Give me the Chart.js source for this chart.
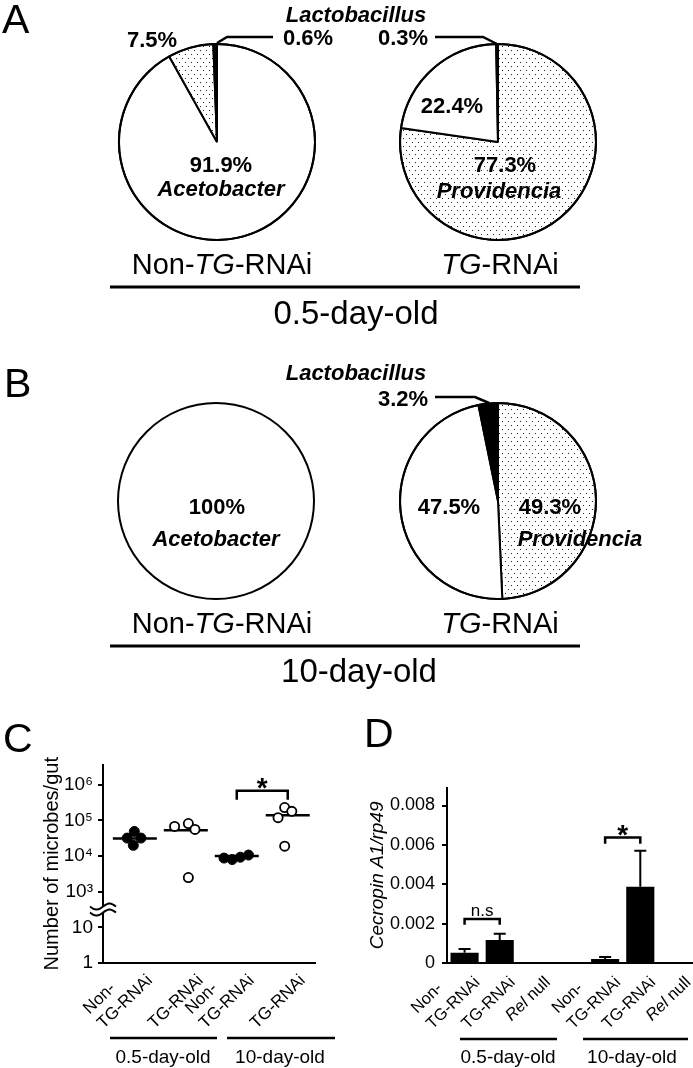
<!DOCTYPE html>
<html>
<head>
<meta charset="utf-8">
<title>Gut microbiota and Cecropin A1</title>
<script src="https://cdn.jsdelivr.net/npm/chart.js@4.4.0/dist/chart.umd.min.js"></script>
<style>
  html, body { margin: 0; padding: 0; background: #fff; overflow: hidden; }
  #page { position: relative; width: 693px; height: 1068px; overflow: hidden; }
  #page canvas { position: absolute; }
  #overlay { position: absolute; left: 0; top: 0; pointer-events: none; }
</style>
</head>
<body>
<div id="page">
  <canvas id="pieA1" width="210" height="210" style="left:112px;top:37px"></canvas>
  <canvas id="pieA2" width="210" height="210" style="left:393px;top:37px"></canvas>
  <canvas id="pieB1" width="210" height="210" style="left:111px;top:396px"></canvas>
  <canvas id="pieB2" width="210" height="210" style="left:393px;top:396px"></canvas>
  <canvas id="chartC" width="340" height="328" style="left:0px;top:740px"></canvas>
  <canvas id="chartD" width="348" height="298" style="left:345px;top:770px"></canvas>
  <svg id="overlay" width="693" height="1068" font-family="'Liberation Sans', Arial, Helvetica, sans-serif"></svg>
</div>
<script>
// ===== Data =====

// Panels A/B: share of each genus (%), listed clockwise from 12 o'clock
const pieA1Taxa = ['Acetobacter', 'Providencia', 'Lactobacillus'];
const pieA1Values = [91.9, 7.5, 0.6];
const pieA2Taxa = ['Providencia', 'Acetobacter', 'Lactobacillus'];
const pieA2Values = [77.3, 22.4, 0.3];
const pieB1Taxa = ['Acetobacter'];
const pieB1Values = [100];
const pieB2Taxa = ['Providencia', 'Acetobacter', 'Lactobacillus'];
const pieB2Values = [49.3, 47.5, 3.2];
const ageLabels = ['0.5-day-old', '10-day-old'];

// Panel C: microbes per gut (broken log axis)
const cGroupLabels = [['Non-', 'TG-RNAi'], ['TG-RNAi'], ['Non-', 'TG-RNAi'], ['TG-RNAi']];
const cGroupFilled = [true, false, true, false];
const cCounts = [
    [3.2e4, 4.9e4, 3.2e4, 2.0e4],
    [6.8e4, 8.2e4, 5.6e4, 2.5e3],
    [8.8e3, 8.0e3, 9.3e3, 1.07e4],
    [1.2e5, 2.3e5, 1.8e5, 1.9e4]
];
const cSpread = [
    [-0.15, -0.01, 0.12, -0.03],
    [-0.22, 0.05, 0.18, 0.05],
    [-0.25, -0.09, 0.07, 0.23],
    [-0.19, -0.06, 0.08, -0.06]
];
const cMeans = [3.1e4, 5.3e4, 1.0e4, 1.4e5];
const cTickValues = [1, 10, 1e3, 1e4, 1e5, 1e6];
const cTickLabels = ['1', '10', '10³', '10⁴', '10⁵', '10⁶'];
const cBracket = { from: 2, to: 3, top: 6.8e5, arm: 3.8e5, label: '*' };

// Panel D: Cecropin A1 / rp49 (mean and upper error)
const dLabels = [['Non-', 'TG-RNAi'], ['TG-RNAi'], ['Rel null'], [], ['Non-', 'TG-RNAi'], ['TG-RNAi'], ['Rel null']];
const dMeans = [0.00052, 0.00117, 0.00003, null, 0.0002, 0.00387, 0];
const dErrTop = [0.00071, 0.00148, null, null, 0.0003, 0.0057, null];
const dTickValues = [0, 0.002, 0.004, 0.006, 0.008];
const dBrackets = [
    { from: 0, to: 1, top: 0.00224, arm: 0.00194, label: 'n.s' },
    { from: 4, to: 5, top: 0.00637, arm: 0.00606, label: '*' }
];

// ===== Chart defaults =====
const FONT = "'Liberation Sans', Arial, Helvetica, sans-serif";
Chart.defaults.font.family = FONT;
Chart.defaults.color = '#000';
Chart.defaults.animation = false;
Chart.defaults.events = [];
Chart.defaults.plugins.legend.display = false;
Chart.defaults.plugins.tooltip.enabled = false;

// ===== Pies (A, B) =====
function makeDots(ctx) {
    const c = document.createElement('canvas');
    c.width = 6; c.height = 8;
    const g = c.getContext('2d');
    g.fillStyle = '#fff';
    g.fillRect(0, 0, 6, 8);
    g.fillStyle = '#222';
    g.fillRect(1, 1, 1, 1);
    g.fillRect(4, 5, 1, 1);
    return ctx.createPattern(c, 'repeat');
}

// outer ring drawn once, so a 100% pie gets no radius line
const pieOutline = {
    id: 'pieOutline',
    afterDatasetsDraw(chart) {
        const arc = chart.getDatasetMeta(0).data[0];
        if (!arc) return;
        const { x, y, outerRadius } = arc.getProps(['x', 'y', 'outerRadius'], true);
        const ctx = chart.ctx;
        ctx.save();
        ctx.strokeStyle = '#000';
        ctx.lineWidth = 2;
        ctx.beginPath();
        ctx.arc(x, y, outerRadius, 0, Math.PI * 2);
        ctx.stroke();
        ctx.restore();
    }
};

function createPie(canvasId, taxa, values) {
    const canvas = document.getElementById(canvasId);
    const fills = {
        Acetobacter: '#fff',
        Providencia: makeDots(canvas.getContext('2d')),
        Lactobacillus: '#000'
    };
    return new Chart(canvas, {
        type: 'pie',
        data: {
            labels: taxa,
            datasets: [{
                data: values,
                backgroundColor: taxa.map(t => fills[t]),
                borderColor: '#000',
                borderWidth: values.length > 1 ? 2 : 0,
                hoverOffset: 0
            }]
        },
        options: { responsive: false, radius: 98 },
        plugins: [pieOutline]
    });
}

createPie('pieA1', pieA1Taxa, pieA1Values);
createPie('pieA2', pieA2Taxa, pieA2Values);
createPie('pieB1', pieB1Taxa, pieB1Values);
createPie('pieB2', pieB2Taxa, pieB2Values);

// ===== Slanted category labels (last line ends at the tick, earlier lines stack above) =====
function drawLabelLine(ctx, text, x, y, size) {
    // the gene name Rel is set in italics
    text.split(/(Rel)/).filter(Boolean).forEach(part => {
        ctx.font = (part === 'Rel' ? 'italic ' : '') + size + 'px ' + FONT;
        ctx.fillText(part, x, y);
        x += ctx.measureText(part).width;
    });
}

function lineWidth(ctx, text, size) {
    return text.split(/(Rel)/).filter(Boolean).reduce((w, part) => {
        ctx.font = (part === 'Rel' ? 'italic ' : '') + size + 'px ' + FONT;
        return w + ctx.measureText(part).width;
    }, 0);
}

function slantedLabels(labels, o) {
    return {
        id: 'slantedLabels',
        afterDraw(chart) {
            const { ctx } = chart;
            const xs = chart.scales.x;
            const rad = o.rotation * Math.PI / 180;
            ctx.save();
            ctx.fillStyle = '#000';
            ctx.textBaseline = 'middle';
            ctx.textAlign = 'left';
            labels.forEach((lines, i) => {
                if (!lines.length) return;
                ctx.save();
                ctx.translate(xs.getPixelForValue(i) + o.dx, xs.top + o.dy);
                ctx.rotate(-rad);
                const start = -lineWidth(ctx, lines[lines.length - 1], o.size);
                lines.forEach((line, k) => {
                    drawLabelLine(ctx, line, start, -(lines.length - 1 - k) * o.lineHeight, o.size);
                });
                ctx.restore();
            });
            ctx.restore();
        }
    };
}

// ===== Panel C =====
// 1 and 10 sit below the break, 10^3..10^6 above it: one step per tick
function toAxis(v) {
    return v > 100 ? Math.log10(v) - 1 : Math.log10(v);
}

function groupPoints(filled) {
    const pts = [];
    cCounts.forEach((vals, g) => {
        if (cGroupFilled[g] !== filled) return;
        vals.forEach((v, k) => pts.push({ x: g + cSpread[g][k], y: toAxis(v) }));
    });
    return pts;
}

const cExtras = {
    id: 'cExtras',
    afterDraw(chart) {
        const { ctx, scales: { x, y } } = chart;
        ctx.save();
        ctx.strokeStyle = '#000';

        // axis break between 10 and 10^3
        const py = y.getPixelForValue(1.5);
        const px = x.left;
        ctx.fillStyle = '#fff';
        ctx.fillRect(px - 3, py - 3, 6, 6);
        ctx.lineWidth = 2;
        [-3, 3].forEach(dy => {
            ctx.beginPath();
            for (let t = -13; t <= 13; t++) {
                const yy = py + dy - 3 * Math.sin(t / 13 * Math.PI);
                if (t === -13) ctx.moveTo(px + t, yy); else ctx.lineTo(px + t, yy);
            }
            ctx.stroke();
        });

        // significance bracket
        const b = cBracket;
        const x1 = x.getPixelForValue(b.from), x2 = x.getPixelForValue(b.to);
        const yt = y.getPixelForValue(toAxis(b.top)), ya = y.getPixelForValue(toAxis(b.arm));
        ctx.lineWidth = 2.5;
        ctx.beginPath();
        ctx.moveTo(x1, ya); ctx.lineTo(x1, yt); ctx.lineTo(x2, yt); ctx.lineTo(x2, ya);
        ctx.stroke();
        ctx.fillStyle = '#000';
        ctx.font = 'bold 28px ' + FONT;
        ctx.textAlign = 'center';
        ctx.fillText(b.label, (x1 + x2) / 2, yt + 6);
        ctx.restore();
    }
};

new Chart(document.getElementById('chartC'), {
    type: 'scatter',
    data: {
        datasets: [{
            data: groupPoints(true),
            pointStyle: 'circle',
            pointRadius: 5,
            pointBackgroundColor: '#000',
            pointBorderColor: '#000',
            pointBorderWidth: 1
        }, {
            data: groupPoints(false),
            pointStyle: 'circle',
            pointRadius: 4.6,
            pointBackgroundColor: '#fff',
            pointBorderColor: '#000',
            pointBorderWidth: 1.8
        }, {
            data: cMeans.map((v, g) => ({ x: g, y: toAxis(v) })),
            pointStyle: 'line',
            pointRadius: 22,
            pointBorderColor: '#000',
            pointBorderWidth: 2.5
        }]
    },
    options: {
        responsive: false,
        layout: { padding: { top: 17, right: 6, left: 0, bottom: 0 } },
        scales: {
            x: {
                type: 'linear',
                min: -0.625,
                max: 3.545,
                afterBuildTicks: s => { s.ticks = cGroupLabels.map((_, i) => ({ value: i })); },
                afterFit: s => { s.height = 105; },
                grid: { display: false },
                border: { color: '#000', width: 2 },
                ticks: { display: false }
            },
            y: {
                min: 0,
                max: 5.57,
                afterBuildTicks: s => { s.ticks = cTickValues.map(v => ({ value: toAxis(v) })); },
                afterFit: s => { s.width = 103; },
                grid: { drawOnChartArea: false, color: '#000', lineWidth: 2, tickLength: 5 },
                border: { color: '#000', width: 2 },
                ticks: {
                    callback: (v, i) => cTickLabels[i],
                    padding: 5,
                    font: { size: 19 }
                },
                title: {
                    display: true,
                    text: 'Number of microbes/gut',
                    font: { size: 20 },
                    padding: { top: 40, bottom: 0 }
                }
            }
        }
    },
    plugins: [cExtras, slantedLabels(cGroupLabels, { rotation: 44, dx: 15, dy: 15, size: 17, lineHeight: 20 })]
});

// ===== Panel D =====
const dExtras = {
    id: 'dExtras',
    afterDatasetsDraw(chart) {
        const { ctx, scales: { x, y } } = chart;
        ctx.save();
        ctx.strokeStyle = '#000';
        ctx.fillStyle = '#000';
        ctx.lineWidth = 2;
        dErrTop.forEach((top, i) => {
            if (top == null) return;
            const px = x.getPixelForValue(i);
            const y0 = y.getPixelForValue(dMeans[i]);
            const y1 = y.getPixelForValue(top);
            ctx.beginPath();
            ctx.moveTo(px, y0); ctx.lineTo(px, y1);
            ctx.moveTo(px - 6, y1); ctx.lineTo(px + 6, y1);
            ctx.stroke();
        });
        ctx.lineWidth = 2.5;
        ctx.textAlign = 'center';
        dBrackets.forEach(b => {
            const x1 = x.getPixelForValue(b.from), x2 = x.getPixelForValue(b.to);
            const yt = y.getPixelForValue(b.top), ya = y.getPixelForValue(b.arm);
            ctx.beginPath();
            ctx.moveTo(x1, ya); ctx.lineTo(x1, yt); ctx.lineTo(x2, yt); ctx.lineTo(x2, ya);
            ctx.stroke();
            if (b.label === '*') {
                ctx.font = 'bold 28px ' + FONT;
                ctx.fillText(b.label, (x1 + x2) / 2, yt + 6);
            } else {
                ctx.font = '17px ' + FONT;
                ctx.fillText(b.label, (x1 + x2) / 2, yt - 3);
            }
        });
        ctx.restore();
    }
};

new Chart(document.getElementById('chartD'), {
    type: 'bar',
    data: {
        labels: dLabels.map(l => l.join(' ')),
        datasets: [{
            data: dMeans,
            backgroundColor: '#000',
            borderWidth: 0,
            barPercentage: 0.8,
            categoryPercentage: 1
        }]
    },
    options: {
        responsive: false,
        layout: { padding: { top: 17, right: 0, left: 0, bottom: 0 } },
        scales: {
            x: {
                afterFit: s => { s.height = 105; },
                grid: { display: false },
                border: { color: '#000', width: 2 },
                ticks: { display: false }
            },
            y: {
                min: 0,
                max: 0.0089,
                afterBuildTicks: s => { s.ticks = dTickValues.map(v => ({ value: v })); },
                afterFit: s => { s.width = 102; },
                grid: { drawOnChartArea: false, color: '#000', lineWidth: 2, tickLength: 5 },
                border: { color: '#000', width: 2 },
                ticks: {
                    callback: v => (v === 0 ? '0' : v.toFixed(3)),
                    padding: 7,
                    font: { size: 18 }
                },
                title: {
                    display: true,
                    text: 'Cecropin A1/rp49',
                    font: { size: 19, style: 'italic' },
                    padding: { top: 21, bottom: 0 }
                }
            }
        }
    },
    plugins: [dExtras, slantedLabels(dLabels, { rotation: 44, dx: 13, dy: 17, size: 16.5, lineHeight: 22 })]
});

// ===== Text and rules over the charts =====
const svg = document.getElementById('overlay');
const NS = 'http://www.w3.org/2000/svg';

function addText(x, y, parts, attrs) {
    const t = document.createElementNS(NS, 'text');
    t.setAttribute('x', x);
    t.setAttribute('y', y);
    Object.entries(attrs || {}).forEach(([k, v]) => t.setAttribute(k, v));
    (Array.isArray(parts) ? parts : [parts]).forEach(p => {
        const s = document.createElementNS(NS, 'tspan');
        if (typeof p === 'string') {
            s.textContent = p;
        } else {
            s.textContent = p.t;
            s.setAttribute('font-style', 'italic');
        }
        t.appendChild(s);
    });
    svg.appendChild(t);
}

function addLine(points, width) {
    const l = document.createElementNS(NS, 'polyline');
    l.setAttribute('points', points.map(p => p.join(',')).join(' '));
    l.setAttribute('fill', 'none');
    l.setAttribute('stroke', '#000');
    l.setAttribute('stroke-width', width);
    svg.appendChild(l);
}

const pct = v => v + '%';
const bold = { 'font-weight': 'bold', 'font-size': 22 };
const boldMid = { 'font-weight': 'bold', 'font-size': 22, 'text-anchor': 'middle' };
const boldItalicMid = { 'font-weight': 'bold', 'font-size': 22, 'font-style': 'italic', 'text-anchor': 'middle' };
const nonTG = ['Non-', { t: 'TG' }, '-RNAi'];
const tg = [{ t: 'TG' }, '-RNAi'];

// panel letters
[['A', 2, 33], ['B', 4, 397], ['C', 3, 752], ['D', 364, 747]].forEach(([s, x, y]) =>
    addText(x, y, s, { 'font-size': 41 }));

// panel A
addText(356, 22, pieA1Taxa[2], boldItalicMid);
addText(283, 45, pct(pieA1Values[2]), bold);
addText(378, 45, pct(pieA2Values[2]), bold);
addText(127, 47, pct(pieA1Values[1]), bold);
addText(221, 172, pct(pieA1Values[0]), boldMid);
addText(221, 196, pieA1Taxa[0], boldItalicMid);
addText(452, 113, pct(pieA2Values[1]), boldMid);
addText(505, 172, pct(pieA2Values[0]), boldMid);
addText(499, 198, pieA2Taxa[0], boldItalicMid);
addLine([[273, 37], [227, 37], [217, 43]], 2.5);
addLine([[435, 37], [483, 37], [497, 44]], 2.5);
addText(222, 274, nonTG, { 'font-size': 29, 'text-anchor': 'middle' });
addText(500, 274, tg, { 'font-size': 29, 'text-anchor': 'middle' });
addLine([[110, 287], [580, 287]], 3);
addText(356, 324, ageLabels[0], { 'font-size': 33, 'text-anchor': 'middle' });

// panel B
addText(356, 380, pieB2Taxa[2], boldItalicMid);
addText(378, 406, pct(pieB2Values[2]), bold);
addLine([[435, 397], [475, 397], [489, 403]], 2.5);
addText(217, 514, pct(pieB1Values[0]), boldMid);
addText(216, 546, pieB1Taxa[0], boldItalicMid);
addText(449, 514, pct(pieB2Values[1]), boldMid);
addText(550, 514, pct(pieB2Values[0]), boldMid);
addText(580, 546, pieB2Taxa[0], boldItalicMid);
addText(222, 633, nonTG, { 'font-size': 29, 'text-anchor': 'middle' });
addText(500, 633, tg, { 'font-size': 29, 'text-anchor': 'middle' });
addLine([[110, 646], [580, 646]], 3);
addText(359, 682, ageLabels[1], { 'font-size': 33, 'text-anchor': 'middle' });

// panel C / D age groups under the axes
addLine([[110, 1038], [217, 1038]], 2.5);
addLine([[227, 1038], [335, 1038]], 2.5);
addText(163, 1063, ageLabels[0], { 'font-size': 19, 'text-anchor': 'middle' });
addText(280, 1063, ageLabels[1], { 'font-size': 19, 'text-anchor': 'middle' });
addLine([[460, 1039], [557, 1039]], 2.5);
addLine([[583, 1039], [688, 1039]], 2.5);
addText(508, 1063, ageLabels[0], { 'font-size': 19, 'text-anchor': 'middle' });
addText(632, 1063, ageLabels[1], { 'font-size': 19, 'text-anchor': 'middle' });
</script>
</body>
</html>
